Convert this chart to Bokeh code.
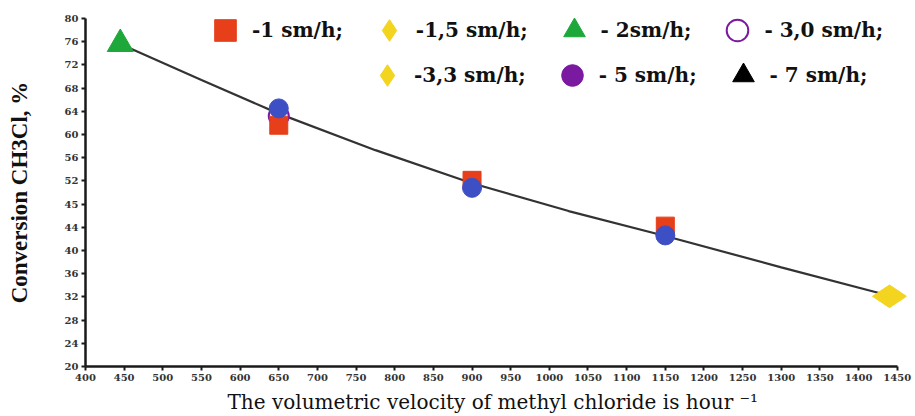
import math
from bokeh.plotting import figure
from bokeh.models import Range1d, FixedTicker, Legend, LegendItem
from bokeh.embed import file_html
from bokeh.resources import INLINE

# ---- data ----
x_1sm = [650, 900, 1150]
y_1sm = [61.6, 52.1, 44.2]
x_15sm = []
y_15sm = []
x_2sm = [445]
y_2sm = [75.6]
x_30sm = [650]
y_30sm = [63.2]
x_33sm = [1440]
y_33sm = [32.1]
x_5sm = [650, 900, 1150]
y_5sm = [64.5, 50.8, 42.6]
x_7sm = []
y_7sm = []

curve_x = [445, 550, 650, 775, 900, 1025, 1150, 1300, 1440]
curve_y = [75.6, 69.4, 63.6, 57.3, 51.6, 46.8, 42.5, 37.1, 32.2]

y_ticks = list(range(20, 81, 4))
x_ticks = list(range(400, 1451, 50))
y_tick_overrides = {48: "45"}

labels = ["-1 sm/h;", "-1,5 sm/h;", "- 2sm/h;", "- 3,0 sm/h;",
          "-3,3 sm/h;", "- 5 sm/h;", "- 7 sm/h;"]

x_title = "The volumetric velocity of methyl chloride is  hour \u207b\u00b9"
y_title = "Conversion CH3Cl, %"

RED = "#e63f1a"
YEL = "#f3d41e"
GRN = "#1ea83a"
PUR = "#7a1aa0"
BLU = "#3d4fc4"
BLK = "#000000"
SERIF = "Liberation Serif"
WSERIF = "DejaVu Serif"
NAN = float("nan")

p = figure(width=915, height=416, output_backend="svg", toolbar_location=None,
           x_range=Range1d(400, 1462), y_range=Range1d(20, 80),
           min_border_left=85, min_border_right=9, min_border_top=18,
           min_border_bottom=50)
p.outline_line_color = None
p.grid.visible = False
p.background_fill_color = "white"
p.border_fill_color = "white"

# axes
p.xaxis.ticker = FixedTicker(ticks=x_ticks)
p.yaxis.ticker = FixedTicker(ticks=y_ticks)
p.xaxis.bounds = (400, 1450)
p.yaxis.major_label_overrides = y_tick_overrides
for ax in (p.xaxis[0], p.yaxis[0]):
    ax.axis_line_width = 2.5
    ax.axis_line_color = "#1a1a1a"
    ax.major_tick_line_width = 2
    ax.major_tick_line_color = "#1a1a1a"
    ax.major_tick_in = 0
    ax.major_tick_out = 4
    ax.minor_tick_line_color = None
    ax.major_label_text_font = WSERIF
    ax.major_label_text_font_style = "bold"
    ax.major_label_text_font_size = "10px"
    ax.major_label_text_color = "#333333"

p.xaxis.axis_label = x_title
p.xaxis.axis_label_text_font = WSERIF
p.xaxis.axis_label_text_font_size = "20px"
p.xaxis.axis_label_text_font_style = "normal"
p.xaxis.axis_label_text_color = "#111111"
p.xaxis.axis_label_standoff = 6
p.xaxis.major_label_standoff = 3

p.yaxis.axis_label = y_title
p.yaxis.axis_label_text_font = SERIF
p.yaxis.axis_label_text_font_size = "23px"
p.yaxis.axis_label_text_font_style = "bold"
p.yaxis.axis_label_text_color = "#111111"
p.yaxis.axis_label_standoff = 30
p.yaxis.major_label_standoff = 3

# curve
p.line(curve_x, curve_y, line_color="#333333", line_width=2.2)

# data markers
p.scatter(x_2sm, y_2sm, marker="triangle", size=26, fill_color=GRN, line_color=GRN)
p.scatter(x_33sm, y_33sm, marker="diamond", size=34, angle=math.pi / 2,
          fill_color=YEL, line_color=YEL)
p.scatter(x_15sm, y_15sm, marker="diamond", size=34, angle=math.pi / 2,
          fill_color=YEL, line_color=YEL)
p.scatter(x_7sm, y_7sm, marker="triangle", size=26, fill_color=BLK, line_color=BLK)
p.scatter(x_30sm, y_30sm, marker="circle", size=20, fill_color="white",
          line_color=PUR, line_width=2)
p.scatter(x_1sm, y_1sm, marker="square", size=18, fill_color=RED, line_color=RED)
p.scatter(x_5sm, y_5sm, marker="circle", size=19, fill_color=BLU, line_color=BLU)

# legend-only glyph renderers (not drawn in the plot area)
def lg(marker, fill, line, angle=0.0, lw=1):
    return p.scatter([NAN], [NAN], marker=marker, size=10, angle=angle,
                     fill_color=fill, line_color=line, line_width=lw)

r_1 = lg("square", RED, RED)
r_15 = lg("diamond", YEL, YEL, math.pi / 2)
r_2 = lg("triangle", GRN, GRN)
r_30 = lg("circle", "white", PUR, lw=2)
r_33 = lg("diamond", YEL, YEL, math.pi / 2)
r_5 = lg("circle", PUR, PUR)
r_7 = lg("triangle", BLK, BLK)

def make_legend(items, loc, spacing):
    return Legend(items=items, location=loc, orientation="horizontal",
                  background_fill_alpha=0, border_line_color=None,
                  padding=0, margin=0, spacing=spacing,
                  glyph_width=54, glyph_height=54, label_standoff=0,
                  label_text_font=WSERIF, label_text_font_style="bold",
                  label_text_font_size="20px", label_text_color="#111111",
                  label_height=20)

leg1 = make_legend([LegendItem(label=labels[0], renderers=[r_1]),
                    LegendItem(label=labels[1], renderers=[r_15]),
                    LegendItem(label=labels[2], renderers=[r_2]),
                    LegendItem(label=labels[3], renderers=[r_30])],
                   (113, 309), 19)
leg2 = make_legend([LegendItem(label=labels[4], renderers=[r_33]),
                    LegendItem(label=labels[5], renderers=[r_5]),
                    LegendItem(label=labels[6], renderers=[r_7])],
                   (275, 264), 19)
p.add_layout(leg1)
p.add_layout(leg2)

open("out.html", "w").write(file_html(p, INLINE))
